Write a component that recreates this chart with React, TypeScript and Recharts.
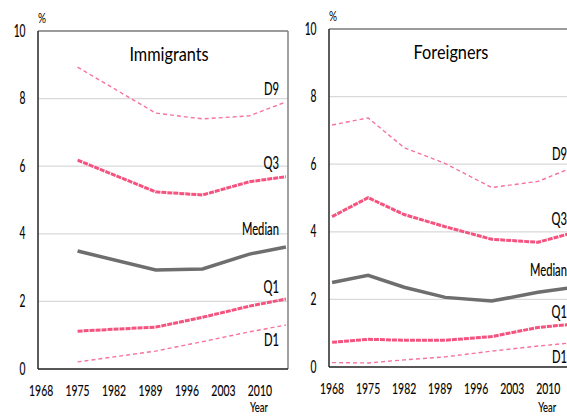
import { LineChart, Line, XAxis, YAxis, CartesianGrid, ReferenceLine } from 'recharts'

// axis ticks
const yearTicks = [1968, 1975, 1982, 1989, 1996, 2003, 2010]
const percentTicks = [0, 2, 4, 6, 8, 10]
const yearDomain = [1967.4, 2015.4]

// Immigrants panel
const immigrantYears = [1975, 1990, 1999, 2008, 2015]
const immigrantD9 = [8.93, 7.57, 7.4, 7.49, 7.9]
const immigrantQ3 = [6.18, 5.24, 5.15, 5.54, 5.69]
const immigrantMedian = [3.49, 2.93, 2.96, 3.4, 3.61]
const immigrantQ1 = [1.12, 1.24, 1.53, 1.86, 2.07]
const immigrantD1 = [0.21, 0.53, 0.81, 1.1, 1.3]

// Foreigners panel
const foreignerYears = [1968, 1975, 1982, 1990, 1999, 2008, 2015]
const foreignerD9 = [7.16, 7.37, 6.49, 6.02, 5.31, 5.49, 5.92]
const foreignerQ3 = [4.45, 5.01, 4.51, 4.15, 3.78, 3.69, 3.98]
const foreignerMedian = [2.5, 2.71, 2.36, 2.06, 1.95, 2.21, 2.36]
const foreignerQ1 = [0.73, 0.82, 0.79, 0.79, 0.9, 1.17, 1.27]
const foreignerD1 = [0.13, 0.12, 0.21, 0.3, 0.47, 0.62, 0.72]

const FONT = 'Lato, "Noto Sans", sans-serif'
const PINK = '#f4537f'
const LIGHT_PINK = '#f6739a'
const GREY = '#6e6e6e'

// series look + label offsets (dy is from the last point to the label centre)
const seriesStyle = [
  { key: 'd9', name: 'D9', stroke: LIGHT_PINK, width: 1.4, dash: '4 3', dy: -12 },
  { key: 'q3', name: 'Q3', stroke: PINK, width: 3, dash: '5 1', dy: -13 },
  { key: 'median', name: 'Median', stroke: GREY, width: 3.5, dash: undefined, dy: -17 },
  { key: 'q1', name: 'Q1', stroke: PINK, width: 3, dash: '5 1', dy: -12 },
  { key: 'd1', name: 'D1', stroke: LIGHT_PINK, width: 1.4, dash: '4 3', dy: 15 },
]

// Calibri in the source is narrow, so squeeze Lato horizontally
function CondText({ x, y, anchor = 'middle', size = 16.5, sx = 0.66, sw = 0.15, fill = '#000', children }: any) {
  return (
    <text
      transform={`translate(${x},${y}) scale(${sx},1)`}
      textAnchor={anchor}
      fontSize={size}
      fontFamily={FONT}
      fill={fill}
      stroke={fill}
      strokeWidth={sw}
    >
      {children}
    </text>
  )
}

const YTick = ({ x, y, payload }: any) => (
  <CondText x={x} y={y + 5.5} anchor="end" sx={0.62}>{payload.value}</CondText>
)

const XTick = ({ x, y, payload }: any) => (
  <CondText x={x} y={y + 10} size={16} sx={0.65}>{payload.value}</CondText>
)

function buildRows(years: number[], d9: number[], q3: number[], median: number[], q1: number[], d1: number[]) {
  return years.map((year, i) => ({ year, d9: d9[i], q3: q3[i], median: median[i], q1: q1[i], d1: d1[i] }))
}

interface PanelProps {
  rows: any[]
  title: string
  left: number
  top: number
  plotWidth: number
  titleX: number
}

function Panel({ rows, title, left, top, plotWidth, titleX }: PanelProps) {
  const width = 38 + plotWidth + 6
  const lastIndex = rows.length - 1

  const endLabel = (text: string, dy: number) => (props: any) => {
    if (props.index !== lastIndex) return null
    return (
      <CondText key={text} x={props.x - 7} y={props.y + dy + 5.5} anchor="end" sx={0.68}>
        {text}
      </CondText>
    )
  }

  return (
    <div style={{ position: 'absolute', left, top: 0, width, height: 416 }}>
      <LineChart
        width={width}
        height={416}
        data={rows}
        margin={{ top, right: 6, bottom: 0, left: 0 }}
      >
        <CartesianGrid vertical={false} stroke="#d9d9d9" strokeWidth={1.2} />
        <XAxis
          dataKey="year"
          type="number"
          domain={yearDomain}
          ticks={yearTicks}
          allowDataOverflow
          height={416 - top - 338}
          tickLine={false}
          tickSize={6}
          tickMargin={11}
          axisLine={{ stroke: '#262626', strokeWidth: 1.5 }}
          tick={<XTick />}
          interval={0}
        />
        <YAxis
          domain={[0, 10]}
          ticks={percentTicks}
          width={38}
          tickLine={false}
          tickSize={6}
          tickMargin={6.5}
          axisLine={{ stroke: '#262626', strokeWidth: 1.5 }}
          tick={<YTick />}
          interval={0}
        />
        <ReferenceLine y={10} stroke="#808080" strokeWidth={1.5} />
        <ReferenceLine x={yearDomain[1]} stroke="#808080" strokeWidth={1.5} />
        {seriesStyle.map(s => (
          <Line
            key={s.key}
            dataKey={s.key}
            name={s.name}
            type="linear"
            stroke={s.stroke}
            strokeWidth={s.width}
            strokeDasharray={s.dash}
            dot={false}
            activeDot={false}
            isAnimationActive={false}
            label={endLabel(s.name, s.dy)}
          />
        ))}
      </LineChart>
      <svg
        width={width}
        height={416}
        style={{ position: 'absolute', left: 0, top: 0, pointerEvents: 'none' }}
      >
        <CondText x={titleX - left} y={top + 30} size={18.5} sx={0.88} sw={0}>{title}</CondText>
        <CondText x={42} y={top - 8} size={14} sx={0.72} sw={0}>%</CondText>
        <CondText x={38 + (2010 - yearDomain[0]) * plotWidth / 48 - 1} y={411.5} size={13.5} sx={0.7}>Year</CondText>
      </svg>
    </div>
  )
}

export default function App() {
  const immigrantRows = buildRows(immigrantYears, immigrantD9, immigrantQ3, immigrantMedian, immigrantQ1, immigrantD1)
  const foreignerRows = buildRows(foreignerYears, foreignerD9, foreignerQ3, foreignerMedian, foreignerQ1, foreignerD1)

  return (
    <div style={{ position: 'absolute', left: 0, top: 0, width: 567, height: 416, overflow: 'hidden', background: '#fff' }}>
      <Panel rows={immigrantRows} title="Immigrants" left={0} top={31} plotWidth={250} titleX={169} />
      <Panel rows={foreignerRows} title="Foreigners" left={291} top={29} plotWidth={247} titleX={451} />
    </div>
  )
}
